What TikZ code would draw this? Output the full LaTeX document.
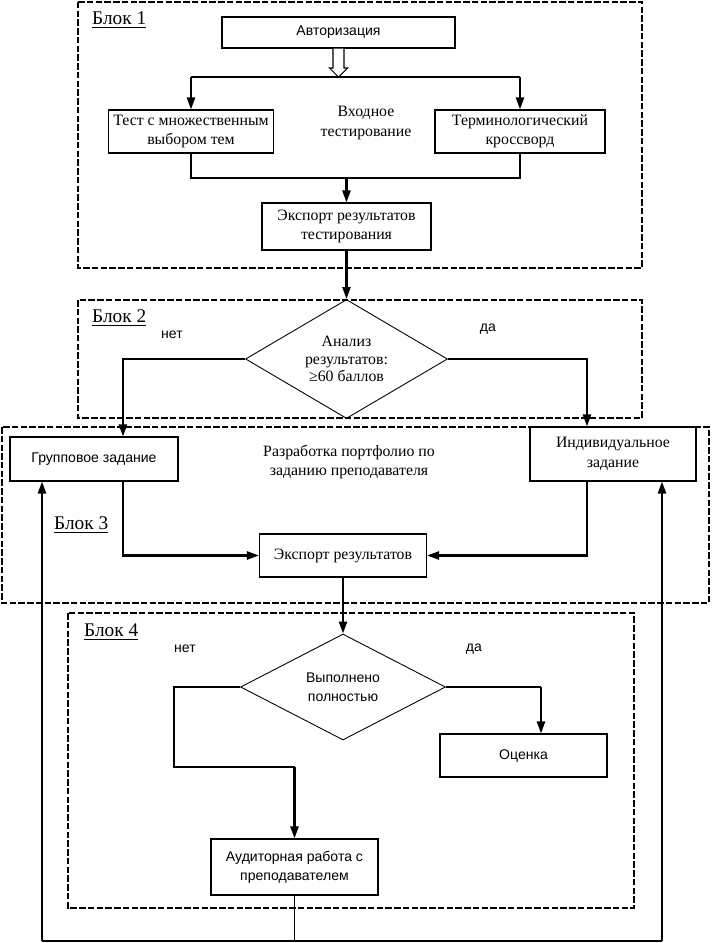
\documentclass[tikz,border=0pt]{standalone}
\usepackage{fontspec}
\setmainfont{Liberation Serif}
\setsansfont{Liberation Sans}
\usetikzlibrary{shapes.geometric,arrows.meta,calc}

\begin{document}
\begin{tikzpicture}[x=0.02cm,y=-0.02cm,
  box/.style={draw,line width=0.6pt,inner sep=1pt,align=center},
  rmtext/.style={font=\fontsize{9}{11}\selectfont,align=center},
  sftext/.style={font=\sffamily\fontsize{8}{11}\selectfont,align=center},
  decision/.style={draw,diamond,line width=0.5pt,inner sep=0pt,aspect=1.7,align=center},
  blockframe/.style={line width=1.5pt,dash pattern=on 1.3mm off 0.45mm},
  blocklabel/.style={anchor=west,font=\fontsize{11}{13}\selectfont},
  ln/.style={line width=0.6pt},
  arr/.style={line width=1.3pt,-{Triangle[length=2.4mm,width=1.6mm]}}]
\useasboundingbox (0,0) rectangle (711,943);

% block frames
\draw[blockframe] (78,2) rectangle (642,268);
\draw[blockframe] (78,300) rectangle (642,418);
\draw[blockframe] (2,427) rectangle (709,603);
\draw[blockframe] (68,613) rectangle (634,908);
\node[blocklabel] (b1) at (86,20) {\underline{Блок 1}};
\node[blocklabel] (b2) at (86,318) {\underline{Блок 2}};
\node[blocklabel] (b3) at (48,525) {\underline{Блок 3}};
\node[blocklabel] (b4) at (78,632) {\underline{Блок 4}};

% block 1
\node[box,sftext,minimum width=4.66cm,minimum height=0.62cm] (auth) at (338.5,32.5) {Авторизация};
\node[box,rmtext,minimum width=3.3cm,minimum height=0.86cm] (test) at (191,131.5) {Тест с множественным\\выбором тем};
\node[box,rmtext,minimum width=3.4cm,minimum height=0.86cm] (cross) at (520,131.5) {Терминологический\\кроссворд};
\node[rmtext] (entry) at (366,123) {Входное\\тестирование};
\node[box,rmtext,minimum width=3.38cm,minimum height=0.94cm] (exp1) at (346.5,226.5) {Экспорт результатов\\тестирования};
\coordinate (j0) at (338.5,77);
\coordinate (j1) at (346.5,178);
\draw[line width=0.6pt,fill=white] ($(auth.south)+(-5.5,0)$) -- ($(j0)+(-5.5,-9)$) -- ($(j0)+(-9,-9)$) -- (j0)
  -- ($(j0)+(9,-9)$) -- ($(j0)+(5.5,-9)$) -- ($(auth.south)+(5.5,0)$);
\draw[ln] (test.north |- j0) -- (cross.north |- j0);
\draw[arr] (test.north |- j0) -- (test.north);
\draw[arr] (cross.north |- j0) -- (cross.north);
\draw[ln] (test.south) |- (j1) -| (cross.south);
\draw[arr] (j1) -- (exp1.north);

% block 2
\node[decision,rmtext,font=\fontsize{9}{10}\selectfont,minimum width=4.04cm,minimum height=2.38cm] (an) at (346.5,359) {Анализ\\результатов:\\≥60 баллов};
\draw[arr] (exp1.south) -- (an.north);
\node[sftext] (no1) at (172,335) {нет};
\node[sftext] (yes1) at (488,329) {да};

% block 3
\node[box,sftext,minimum width=3.36cm,minimum height=0.88cm] (grp) at (94,459) {Групповое задание};
\node[box,rmtext,minimum width=3.32cm,minimum height=1.08cm] (ind) at (613,454) {Индивидуальное\\задание};
\node[rmtext] (port) at (349,462) {Разработка портфолио по\\заданию преподавателя};
\node[box,rmtext,minimum width=3.34cm,minimum height=0.86cm] (exp2) at (343,555.5) {Экспорт результатов};
\coordinate (gx) at (123,0);
\coordinate (ix) at (587,0);
\draw[arr] (an.west) -| (grp.north -| gx);
\draw[arr] (an.east) -| (ind.north -| ix);
\draw[arr] (grp.south -| gx) |- (exp2.west);
\draw[arr] (ind.south -| ix) |- (exp2.east);

% block 4
\node[decision,sftext,minimum width=4.1cm,minimum height=2.12cm] (vd) at (343,687) {Выполнено\\полностью};
\node[sftext] (no2) at (185,649) {нет};
\node[sftext] (yes2) at (474,649) {да};
\node[box,sftext,minimum width=3.34cm,minimum height=0.86cm] (oc) at (523.5,755.5) {Оценка};
\node[box,sftext,minimum width=3.34cm,minimum height=1.12cm] (aud) at (294.5,867) {Аудиторная работа с\\преподавателем};
\draw[arr] (exp2.south) -- (vd.north);
\coordinate (k1) at (174,767);
\coordinate (ox) at (541,0);
\draw[ln] (vd.west) -| (k1) -- (k1 -| aud.north);
\draw[arr] (k1 -| aud.north) -- (aud.north);
\draw[ln] (vd.east) -- (vd.east -| ox);
\draw[arr] (vd.east -| ox) -- (oc.north -| ox);

% feedback
\coordinate (fbl) at (42,941);
\coordinate (fbr) at (662,941);
\draw[ln] (aud.south) -- (aud.south |- fbl);
\draw[line width=1.1pt] (fbl) -- (fbr);
\draw[arr] (fbl) -- (grp.south -| fbl);
\draw[arr] (fbr) -- (ind.south -| fbr);
\end{tikzpicture}
\end{document}
